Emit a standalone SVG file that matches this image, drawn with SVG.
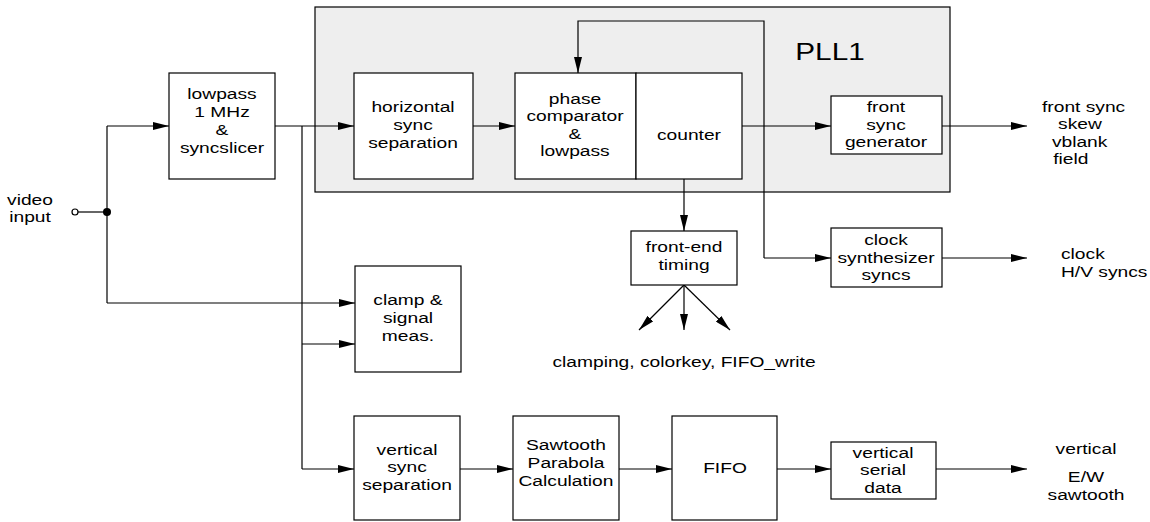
<svg xmlns="http://www.w3.org/2000/svg" width="1150" height="522" viewBox="0 0 1150 522">
<defs>
<marker id="ah" markerUnits="userSpaceOnUse" markerWidth="16" markerHeight="8" refX="16" refY="4" orient="auto">
<path d="M0,0 L16,4 L0,8 z" fill="#000"/>
</marker>
<style>
text{font-family:"Liberation Sans",Arial,Helvetica,sans-serif;font-size:15.5px;fill:#000;text-anchor:middle}
.box{fill:#fff;stroke:#000;stroke-width:1.2}
.pll{fill:#eeeeee;stroke:#000;stroke-width:1.2}
.ln{fill:none;stroke:#000;stroke-width:1.2}
.arr{fill:none;stroke:#000;stroke-width:1.2;marker-end:url(#ah)}
.l{text-anchor:start}
</style>
</defs>
<rect width="1150" height="522" fill="#fff"/>
<g id="pll1">
<rect class="pll" x="315" y="7" width="635" height="185"/>
<g transform="translate(830,0) scale(1.24,1)"><text x="0" y="60" style="font-size:24px">PLL1</text></g>
</g>
<g id="connectors">
<line class="ln" x1="78" y1="212" x2="107" y2="212"/>
<polyline class="ln" points="107,303 107,126"/>
<line class="arr" x1="107" y1="126" x2="169" y2="126"/>
<line class="arr" x1="275" y1="126" x2="354" y2="126"/>
<polyline class="ln" points="302,126 302,469"/>
<line class="arr" x1="107" y1="303" x2="355" y2="303"/>
<line class="arr" x1="302" y1="344" x2="355" y2="344"/>
<line class="arr" x1="302" y1="469" x2="354" y2="469"/>
<line class="arr" x1="473" y1="126" x2="515" y2="126"/>
<polyline class="arr" points="764,258 764,21 578,21 578,73"/>
<line class="arr" x1="764" y1="258" x2="831" y2="258"/>
<line class="arr" x1="742" y1="126" x2="831" y2="126"/>
<line class="arr" x1="942" y1="126" x2="1027" y2="126"/>
<line class="arr" x1="942" y1="258" x2="1027" y2="258"/>
<line class="arr" x1="684" y1="179" x2="684" y2="231"/>
<line class="arr" x1="684" y1="285" x2="639" y2="330"/>
<line class="arr" x1="684" y1="285" x2="684" y2="330"/>
<line class="arr" x1="684" y1="285" x2="730" y2="330"/>
<line class="arr" x1="460" y1="469" x2="513" y2="469"/>
<line class="arr" x1="619" y1="469" x2="672" y2="469"/>
<line class="arr" x1="777" y1="469" x2="831" y2="469"/>
<line class="arr" x1="936" y1="469" x2="1027" y2="469"/>
<circle cx="107" cy="212" r="4" fill="#000"/>
</g>
<g id="video-input">
<circle cx="75" cy="212" r="3" fill="#fff" stroke="#000" stroke-width="1.2"/>
<g transform="translate(30,0) scale(1.24,1)">
<text x="0" y="205">video</text>
<text x="0" y="222.5">input</text>
</g>
</g>
<g id="lowpass">
<rect class="box" x="169" y="73" width="106" height="106"/>
<g transform="translate(222,0) scale(1.24,1)">
<text x="0" y="99">lowpass</text>
<text x="0" y="117">1 MHz</text>
<text x="0" y="135">&amp;</text>
<text x="0" y="153">syncslicer</text>
</g>
</g>
<g id="hsync">
<rect class="box" x="354" y="73" width="119" height="106"/>
<g transform="translate(413,0) scale(1.24,1)">
<text x="0" y="112">horizontal</text>
<text x="0" y="130">sync</text>
<text x="0" y="148">separation</text>
</g>
</g>
<g id="phasecomp">
<rect class="box" x="515" y="73" width="121" height="106"/>
<g transform="translate(575,0) scale(1.24,1)">
<text x="0" y="104">phase</text>
<text x="0" y="121.5">comparator</text>
<text x="0" y="139">&amp;</text>
<text x="0" y="156.5">lowpass</text>
</g>
</g>
<g id="counter">
<rect class="box" x="636" y="73" width="106" height="106"/>
<g transform="translate(689,0) scale(1.24,1)">
<text x="0" y="140">counter</text>
</g>
</g>
<g id="frontsync">
<rect class="box" x="831" y="96" width="111" height="58"/>
<g transform="translate(886,0) scale(1.24,1)">
<text x="0" y="112.5">front</text>
<text x="0" y="130">sync</text>
<text x="0" y="147.5">generator</text>
</g>
</g>
<g id="out-front">
<g transform="translate(1042,0) scale(1.24,1)">
<text class="l" x="0" y="112">front sync</text>
<text class="l" x="13" y="129.5">skew</text>
<text class="l" x="8" y="147">vblank</text>
<text class="l" x="9" y="164.5">field</text>
</g>
</g>
<g id="clocksynth">
<rect class="box" x="831" y="228" width="111" height="59"/>
<g transform="translate(886,0) scale(1.24,1)">
<text x="0" y="245.5">clock</text>
<text x="0" y="263">synthesizer</text>
<text x="0" y="280.5">syncs</text>
</g>
</g>
<g id="out-clock">
<g transform="translate(1061,0) scale(1.24,1)">
<text class="l" x="0" y="259">clock</text>
<text class="l" x="0" y="277">H/V syncs</text>
</g>
</g>
<g id="frontend">
<rect class="box" x="631" y="231" width="106" height="54"/>
<g transform="translate(684,0) scale(1.24,1)">
<text x="0" y="252.5">front-end</text>
<text x="0" y="270">timing</text>
</g>
</g>
<g id="out-frontend">
<g transform="translate(684,0) scale(1.24,1)">
<text x="0" y="367">clamping, colorkey, FIFO_write</text>
</g>
</g>
<g id="clamp">
<rect class="box" x="355" y="266" width="106" height="106"/>
<g transform="translate(408,0) scale(1.24,1)">
<text x="0" y="305">clamp &amp;</text>
<text x="0" y="323">signal</text>
<text x="0" y="341">meas.</text>
</g>
</g>
<g id="vsync">
<rect class="box" x="354" y="416" width="106" height="104"/>
<g transform="translate(407,0) scale(1.24,1)">
<text x="0" y="455">vertical</text>
<text x="0" y="472.5">sync</text>
<text x="0" y="490">separation</text>
</g>
</g>
<g id="sawtooth">
<rect class="box" x="513" y="416" width="106" height="104"/>
<g transform="translate(566,0) scale(1.24,1)">
<text x="0" y="450">Sawtooth</text>
<text x="0" y="468">Parabola</text>
<text x="0" y="486">Calculation</text>
</g>
</g>
<g id="fifo">
<rect class="box" x="672" y="416" width="105" height="104"/>
<g transform="translate(725,0) scale(1.24,1)">
<text x="0" y="473">FIFO</text>
</g>
</g>
<g id="vserial">
<rect class="box" x="831" y="442" width="105" height="57"/>
<g transform="translate(883,0) scale(1.24,1)">
<text x="0" y="458">vertical</text>
<text x="0" y="475.5">serial</text>
<text x="0" y="493">data</text>
</g>
</g>
<g id="out-vertical">
<g transform="translate(1086,0) scale(1.24,1)">
<text x="0" y="454">vertical</text>
<text x="0" y="482">E/W</text>
<text x="0" y="500">sawtooth</text>
</g>
</g>
</svg>
